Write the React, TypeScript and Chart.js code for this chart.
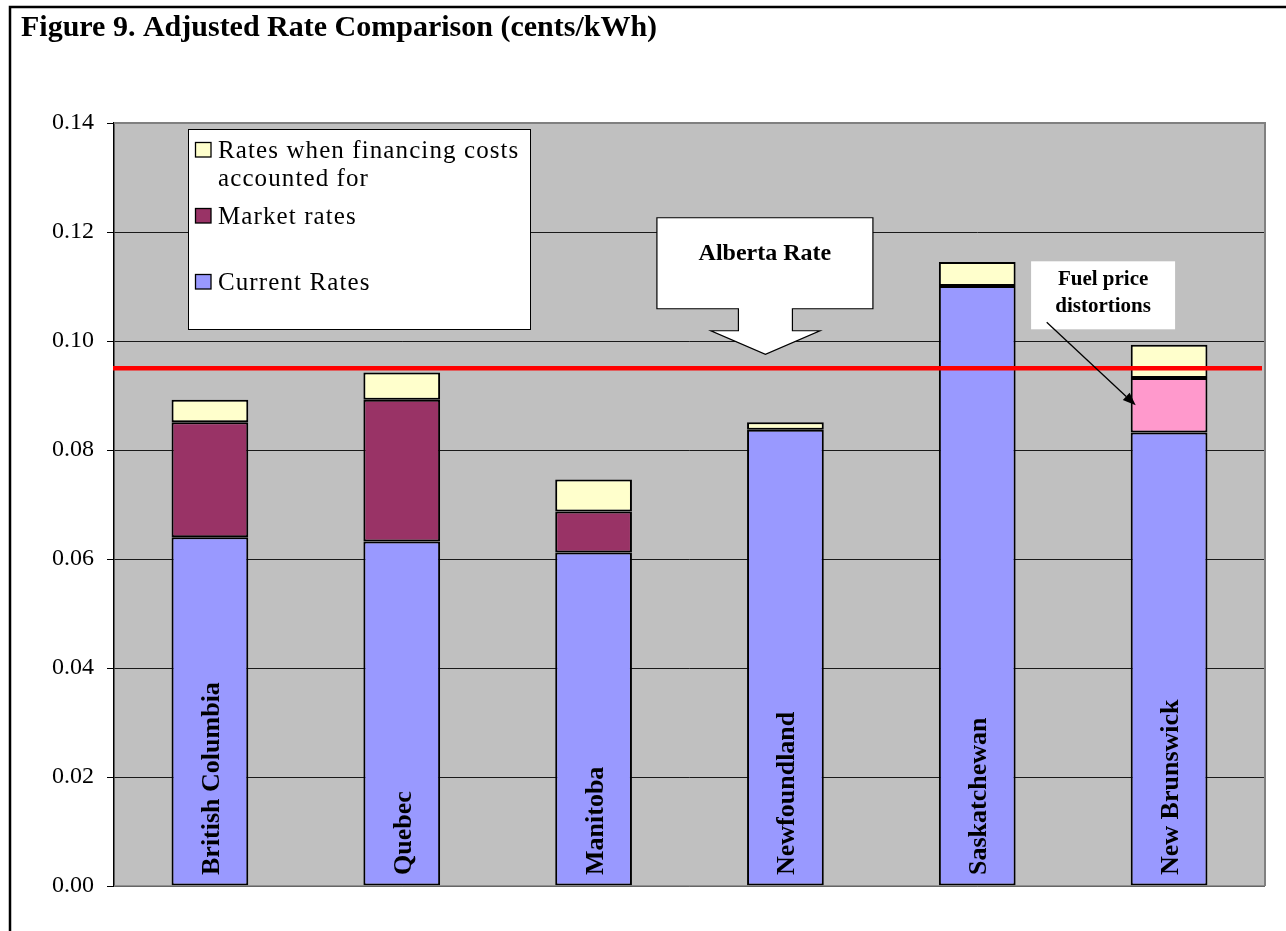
import { useEffect, useRef } from "react";
import { Chart, registerables } from "chart.js";

Chart.register(...registerables);

// ---- data (cents/kWh) ----
const provinces = [
  "British Columbia",
  "Quebec",
  "Manitoba",
  "Newfoundland",
  "Saskatchewan",
  "New Brunswick",
];
const currentRates = [0.064, 0.0632, 0.0612, 0.0837, 0.1101, 0.0832];
const marketRateGap = [0.0211, 0.026, 0.0075, null, null, null];
const fuelPriceGap = [null, null, null, null, null, 0.01];
const financingGap = [0.0041, 0.005, 0.0059, 0.0014, 0.0044, 0.0061];
const albertaRate = 0.095;
const yTickValues = [0, 0.02, 0.04, 0.06, 0.08, 0.1, 0.12, 0.14];

const TITLE = "Figure 9. Adjusted Rate Comparison (cents/kWh)";
const ALBERTA_LABEL = "Alberta Rate";
const FUEL_LABEL = ["Fuel price", "distortions"];
const FINANCING_LABEL = ["Rates when financing costs", "accounted for"];

const FONT = '"Liberation Serif", "Times New Roman", serif';

const COLORS = {
  current: "#9999FF",
  market: "#993366",
  fuel: "#FF99CC",
  financing: "#FFFFCC",
  plot: "#C0C0C0",
  plotEdge: "#808080",
  alberta: "#FF0000",
};

function drawPage(chart: any) {
  const { ctx, chartArea: a } = chart;
  ctx.save();
  ctx.fillStyle = "#FFFFFF";
  ctx.fillRect(0, 0, chart.width, chart.height);
  // figure frame
  ctx.strokeStyle = "#000";
  ctx.lineWidth = 2.5;
  ctx.beginPath();
  ctx.moveTo(10, chart.height + 5);
  ctx.lineTo(10, 7);
  ctx.lineTo(chart.width + 5, 7);
  ctx.stroke();
  // title
  ctx.fillStyle = "#000";
  ctx.font = `bold 30px ${FONT}`;
  ctx.textAlign = "left";
  ctx.textBaseline = "alphabetic";
  ctx.fillText(TITLE, 21, 36);
  // plot background
  ctx.fillStyle = COLORS.plot;
  ctx.fillRect(a.left, a.top, a.right - a.left, a.bottom - a.top);
  ctx.restore();
}

function drawOverlay(chart: any) {
  const { ctx, chartArea: a } = chart;
  const xs = chart.scales.x;
  const ys = chart.scales.y;
  ctx.save();

  // plot frame (top, right, bottom)
  ctx.strokeStyle = COLORS.plotEdge;
  ctx.lineWidth = 2;
  ctx.beginPath();
  ctx.moveTo(a.left, a.top);
  ctx.lineTo(a.right, a.top);
  ctx.lineTo(a.right, a.bottom);
  ctx.stroke();
  ctx.lineWidth = 1.5;
  ctx.beginPath();
  ctx.moveTo(a.left, a.bottom);
  ctx.lineTo(a.right, a.bottom);
  ctx.stroke();

  // Alberta reference rate
  const ry = ys.getPixelForValue(albertaRate);
  ctx.strokeStyle = COLORS.alberta;
  ctx.lineWidth = 4.5;
  ctx.beginPath();
  ctx.moveTo(a.left - 1, ry);
  ctx.lineTo(a.right - 3, ry);
  ctx.stroke();

  // province names inside the bars
  ctx.fillStyle = "#000";
  ctx.font = `bold 26px ${FONT}`;
  ctx.textAlign = "left";
  ctx.textBaseline = "alphabetic";
  provinces.forEach((name, i) => {
    const cx = xs.getPixelForValue(i);
    ctx.save();
    ctx.translate(cx + 9, a.bottom - 11);
    ctx.rotate(-Math.PI / 2);
    ctx.fillText(name, 0, 0);
    ctx.restore();
  });

  // legend box
  const lx = 188.5;
  const lt = 129.5;
  ctx.fillStyle = "#FFFFFF";
  ctx.fillRect(lx, lt, 342, 200);
  ctx.strokeStyle = "#000";
  ctx.lineWidth = 1;
  ctx.strokeRect(lx, lt, 342, 200);
  const ds = chart.data.datasets;
  const entries = [
    { d: ds[3], top: 142, lines: FINANCING_LABEL },
    { d: ds[1], top: 208, lines: [ds[1].label] },
    { d: ds[0], top: 274, lines: [ds[0].label] },
  ];
  ctx.font = `25px ${FONT}`;
  (ctx as any).letterSpacing = "1.1px";
  entries.forEach((e) => {
    ctx.fillStyle = e.d.backgroundColor;
    ctx.fillRect(195, e.top, 16, 15);
    ctx.strokeStyle = "#000";
    ctx.lineWidth = 1.3;
    ctx.strokeRect(195.5, e.top + 0.5, 15.5, 14.5);
    ctx.fillStyle = "#000";
    e.lines.forEach((line: string, k: number) => {
      ctx.fillText(line, 218, e.top + 15.5 + k * 28.5);
    });
  });
  (ctx as any).letterSpacing = "0px";

  // "Alberta Rate" callout pointing at the reference line
  const tipX = xs.getPixelForValue(3) - 20;
  const tipY = ry - 14;
  const bodyBottom = tipY - 45.5;
  const headBase = tipY - 23.5;
  ctx.beginPath();
  ctx.moveTo(tipX - 108.5, tipY - 136.5);
  ctx.lineTo(tipX + 107.5, tipY - 136.5);
  ctx.lineTo(tipX + 107.5, bodyBottom);
  ctx.lineTo(tipX + 27, bodyBottom);
  ctx.lineTo(tipX + 27, headBase);
  ctx.lineTo(tipX + 54.5, headBase);
  ctx.lineTo(tipX, tipY);
  ctx.lineTo(tipX - 54.5, headBase);
  ctx.lineTo(tipX - 27, headBase);
  ctx.lineTo(tipX - 27, bodyBottom);
  ctx.lineTo(tipX - 108.5, bodyBottom);
  ctx.closePath();
  ctx.fillStyle = "#FFFFFF";
  ctx.fill();
  ctx.strokeStyle = "#000";
  ctx.lineWidth = 1.2;
  ctx.stroke();
  ctx.fillStyle = "#000";
  ctx.font = `bold 24px ${FONT}`;
  ctx.textAlign = "center";
  ctx.fillText(ALBERTA_LABEL, tipX - 0.5, tipY - 94.5);

  // "Fuel price distortions" note with arrow to the pink segment
  const fuelMeta = chart.getDatasetMeta(2);
  const el: any = fuelMeta.data[5];
  if (el) {
    const cx = el.x;
    const midY = (el.y + el.base) / 2;
    const ax = cx - el.width / 2 + 5;
    const bl = cx - 138;
    const bt = midY - 144;
    ctx.fillStyle = "#FFFFFF";
    ctx.fillRect(bl, bt, 144, 68);
    ctx.fillStyle = "#000";
    ctx.font = `bold 21px ${FONT}`;
    ctx.textAlign = "center";
    ctx.fillText(FUEL_LABEL[0], bl + 72, midY - 120);
    ctx.fillText(FUEL_LABEL[1], bl + 72, midY - 93);

    const sx = ax - 89;
    const sy = midY - 83;
    const ang = Math.atan2(midY - sy, ax - sx);
    const hl = 13;
    const hw = 5;
    const bx = ax - hl * Math.cos(ang);
    const by = midY - hl * Math.sin(ang);
    ctx.strokeStyle = "#000";
    ctx.lineWidth = 1.3;
    ctx.beginPath();
    ctx.moveTo(sx, sy);
    ctx.lineTo(bx, by);
    ctx.stroke();
    ctx.beginPath();
    ctx.moveTo(ax, midY);
    ctx.lineTo(bx + hw * Math.sin(ang), by - hw * Math.cos(ang));
    ctx.lineTo(bx - hw * Math.sin(ang), by + hw * Math.cos(ang));
    ctx.closePath();
    ctx.fillStyle = "#000";
    ctx.fill();
  }

  ctx.restore();
}

const figurePlugin = {
  id: "figureDecor",
  beforeDraw: drawPage,
  afterDatasetsDraw: drawOverlay,
};

export default function App() {
  const ref = useRef<HTMLCanvasElement | null>(null);

  useEffect(() => {
    if (!ref.current) return;
    const barStyle = {
      borderColor: "#000",
      borderWidth: 2,
      borderSkipped: false as const,
      barPercentage: 0.4,
      categoryPercentage: 1,
    };
    const chart = new Chart(ref.current, {
      type: "bar",
      data: {
        labels: provinces,
        datasets: [
          { label: "Current Rates", data: currentRates, backgroundColor: COLORS.current, ...barStyle },
          { label: "Market rates", data: marketRateGap, backgroundColor: COLORS.market, ...barStyle },
          { label: "Fuel price distortions", data: fuelPriceGap, backgroundColor: COLORS.fuel, ...barStyle },
          {
            label: "Rates when financing costs accounted for",
            data: financingGap,
            backgroundColor: COLORS.financing,
            ...barStyle,
          },
        ],
      },
      options: {
        responsive: false,
        animation: false,
        devicePixelRatio: 1,
        layout: { padding: { left: 0, top: 123, right: 21, bottom: 45 } },
        plugins: {
          legend: { display: false },
          tooltip: { enabled: false },
          title: { display: false },
        },
        scales: {
          x: { stacked: true, display: false },
          y: {
            stacked: true,
            min: 0,
            max: 0.14,
            afterBuildTicks: (s: any) => {
              s.ticks = yTickValues.map((v) => ({ value: v }));
            },
            afterFit: (s: any) => {
              s.width = 114;
            },
            ticks: {
              color: "#000",
              padding: 13,
              font: { family: FONT, size: 24 },
              callback: (v: any) => Number(v).toFixed(2),
            },
            grid: { color: "#1a1a1a", lineWidth: 1, tickLength: 7, tickColor: "#000" },
            border: { color: "#000", width: 1.5 },
          },
        },
      },
      plugins: [figurePlugin],
    });
    return () => chart.destroy();
  }, []);

  return (
    <canvas
      ref={ref}
      width={1286}
      height={931}
      style={{ position: "absolute", left: 0, top: 0, display: "block", width: 1286, height: 931 }}
    />
  );
}
